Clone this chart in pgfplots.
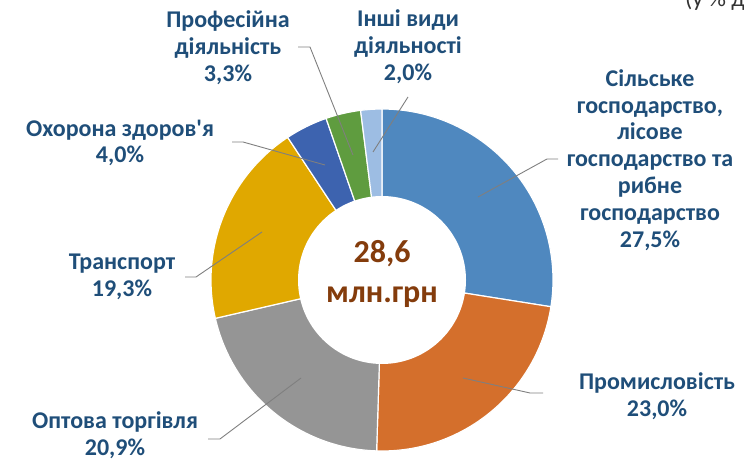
\documentclass[border=0pt]{standalone}
\usepackage{pgfplots}
\usepackage{pgfplotstable}
\pgfplotsset{compat=1.18}
\usepackage{fontspec}
\setmainfont{Carlito}[Ligatures=TeXOff]
\definecolor{cAgri}{HTML}{4F88BF}
\definecolor{cInd}{HTML}{D46F2C}
\definecolor{cTrade}{HTML}{959595}
\definecolor{cTrans}{HTML}{E0A800}
\definecolor{cHealth}{HTML}{3D63AF}
\definecolor{cProf}{HTML}{5F9C3F}
\definecolor{cOther}{HTML}{9DBDE3}
\definecolor{labelblue}{HTML}{1F4E79}
\definecolor{centerbrown}{HTML}{843C0C}
\definecolor{leader}{HTML}{7F7F7F}

% share of each activity, %
\pgfplotstableread{
value color
27.5 cAgri
23.0 cInd
20.9 cTrade
19.3 cTrans
4.0 cHealth
3.3 cProf
2.0 cOther
}\sharetable

\begin{document}
\begin{tikzpicture}
\useasboundingbox (0,0) rectangle (744pt,462pt);
\clip (0,0) rectangle (744pt,462pt);
\begin{axis}[at={(0,0)}, anchor=south west, hide axis, x=1pt, y=1pt,
  xmin=0, xmax=744, ymin=0, ymax=462, clip=false]
\pgfplotstablegetrowsof{\sharetable}
\pgfmathtruncatemacro{\lastrow}{\pgfplotsretval-1}
\def\cumsum{0}
\pgfplotsforeachungrouped \i in {0,...,\lastrow}{%
  \pgfplotstablegetelem{\i}{value}\of\sharetable
  \let\val\pgfplotsretval
  \pgfplotstablegetelem{\i}{color}\of\sharetable
  \let\col\pgfplotsretval
  \pgfmathsetmacro{\angstart}{90-3.6*\cumsum}
  \pgfmathsetmacro{\angend}{90-3.6*(\cumsum+\val)}
  \edef\slice{\noexpand\fill[\col, draw=white, line width=1.2pt] (axis cs:382,182) -- ++(\angstart:171pt) arc[start angle=\angstart, end angle=\angend, radius=171pt] -- cycle;}%
  \slice
  \pgfmathsetmacro{\cumsum}{\cumsum+\val}%
}
\fill[white] (axis cs:382,182) circle[radius=84pt];

% leader lines
\begin{scope}[leader, line width=0.9pt]
\draw (axis cs:558,303) -- (axis cs:547,303) -- (axis cs:478,265);
\draw (axis cs:543,69) -- (axis cs:530,69) -- (axis cs:463,84);
\draw (axis cs:208,23) -- (axis cs:220,23) -- (axis cs:301,84);
\draw (axis cs:185,185) -- (axis cs:196,185) -- (axis cs:262,230);
\draw (axis cs:232,320) -- (axis cs:243,320) -- (axis cs:325,297);
\draw (axis cs:298,415) -- (axis cs:310,415) -- (axis cs:353,307);
\draw (axis cs:408,365) -- (axis cs:373,310);
\end{scope}

% labels
\begin{scope}[every node/.style={text=labelblue, align=center,
   font=\bfseries\fontsize{24}{26.8}\selectfont}]
\node at (axis cs:650,302) {Сільське\\господарство,\\лісове\\господарство та\\рибне\\господарство\\27,5\%};
\node at (axis cs:657,66) {Промисловість\\23,0\%};
\node at (axis cs:115,27) {Оптова торгівля\\20,9\%};
\node at (axis cs:122,185) {Транспорт\\19,3\%};
\node at (axis cs:120,319) {Охорона здоров'я\\4,0\%};
\node at (axis cs:228,414) {Професійна\\діяльність\\3,3\%};
\node at (axis cs:408,415) {Інші види\\діяльності\\2,0\%};
\end{scope}

% centre
\node[anchor=base, text=centerbrown, font=\bfseries\fontsize{32}{38}\selectfont] at (axis cs:382,199) {28,6};
\node[anchor=base, text=centerbrown, font=\bfseries\fontsize{32}{38}\selectfont] at (axis cs:382,159) {млн.грн};

\node[anchor=base west, inner sep=0pt, text=black!80, font=\fontsize{24}{28}\selectfont] at (axis cs:685,455) {(у \% до загального обсягу)};
\end{axis}
\end{tikzpicture}
\end{document}
